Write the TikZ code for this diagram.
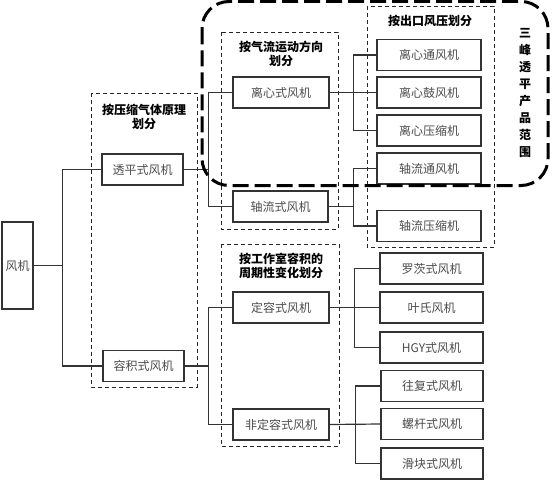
\documentclass[tikz,border=0pt]{standalone}
\usepackage{fontspec}
\newfontfamily\cjk{Noto Sans CJK SC}
\setmainfont{Noto Sans CJK SC}
\begin{document}
\begin{tikzpicture}[x=1pt,y=-1pt,
  box/.style={draw=black!80, line width=1.3pt, fill=white, font=\fontsize{12}{14}\selectfont, text=black!70, inner sep=0pt},
  grp/.style={draw=black!85, line width=0.9pt, dash pattern=on 4pt off 3pt},
  ttl/.style={font=\fontsize{12}{14.5}\selectfont\bfseries, align=center, inner sep=0pt},
  conn/.style={draw=black!80, line width=1.2pt}]
\useasboundingbox (0,0) rectangle (553,481);
% group frames
\draw[grp] (91,93) rectangle (197,387);
\draw[grp] (221,32) rectangle (338,229);
\draw[grp] (367,6) rectangle (494,247);
\draw[grp] (221,244) rectangle (339,446);
% titles
\node[ttl] (t1) at (144,117) {按压缩气体原理\\划分};
\node[ttl] (t2) at (281,54) {按气流运动方向\\划分};
\node[ttl] (t3) at (430,21) {按出口风压划分};
\node[ttl] (t4) at (281,266) {按工作室容积的\\周期性变化划分};
% boxes
\node[box, minimum width=31pt, minimum height=87pt] (fj) at (17.5,265.5) {风机};
\node[box, minimum width=81pt, minimum height=31pt] (tp) at (142.5,169.5) {透平式风机};
\node[box, minimum width=81pt, minimum height=31pt] (rj) at (143.5,366) {容积式风机};
\node[box, minimum width=96pt, minimum height=31pt] (lx) at (281,92.5) {离心式风机};
\node[box, minimum width=95pt, minimum height=31pt] (zl) at (280.5,206.5) {轴流式风机};
\node[box, minimum width=96pt, minimum height=31pt] (dr) at (281,307.5) {定容式风机};
\node[box, minimum width=96pt, minimum height=31pt] (fdr) at (281,424.5) {非定容式风机};
\node[box, minimum width=104pt, minimum height=31pt] (a1) at (429,55) {离心通风机};
\node[box, minimum width=104pt, minimum height=31pt] (a2) at (429,92.5) {离心鼓风机};
\node[box, minimum width=104pt, minimum height=31pt] (a3) at (429,130.5) {离心压缩机};
\node[box, minimum width=104pt, minimum height=31pt] (a4) at (429,168.5) {轴流通风机};
\node[box, minimum width=104pt, minimum height=31pt] (a5) at (429,226) {轴流压缩机};
\node[box, minimum width=103pt, minimum height=31pt] (b1) at (431.5,268.5) {罗茨式风机};
\node[box, minimum width=103pt, minimum height=31pt] (b2) at (431.5,307.5) {叶氏风机};
\node[box, minimum width=103pt, minimum height=31pt] (b3) at (431.5,347.5) {HGY式风机};
\node[box, minimum width=102pt, minimum height=31pt] (c1) at (432,386) {往复式风机};
\node[box, minimum width=102pt, minimum height=31pt] (c2) at (432,424) {螺杆式风机};
\node[box, minimum width=102pt, minimum height=31pt] (c3) at (432,463.5) {滑块式风机};
% connectors
\draw[conn] (fj.east) -- ++(29,0) |- (tp.west);
\draw[conn] (fj.east) -- ++(29,0) |- (rj.west);
\draw[conn] (tp.east) -- ++(25,0) |- (lx.west);
\draw[conn] (tp.east) -- ++(25,0) |- (zl.west);
\draw[conn] (rj.east) -- ++(24,0) |- (dr.west);
\draw[conn] (rj.east) -- ++(24,0) |- (fdr.west);
\draw[conn] (lx.east) -- ++(24,0) |- (a1.west);
\draw[conn] (lx.east) -- (a2.west);
\draw[conn] (lx.east) -- ++(24,0) |- (a3.west);
\draw[conn] (zl.east) -- ++(25,0) |- (a4.west);
\draw[conn] (zl.east) -- ++(25,0) |- (a5.west);
\draw[conn] (dr.east) -- ++(25,0) |- (b1.west);
\draw[conn] (dr.east) -- (b2.west);
\draw[conn] (dr.east) -- ++(25,0) |- (b3.west);
\draw[conn] (fdr.east) -- ++(26,0) |- (c1.west);
\draw[conn] (fdr.east) -- (c2.west);
\draw[conn] (fdr.east) -- ++(26,0) |- (c3.west);
% product range
\draw[line width=3pt, dash pattern=on 16pt off 6pt, rounded corners=27pt] (202,1.5) rectangle (548,185.5);
\node[ttl, font=\fontsize{12}{17}\selectfont\bfseries] (rng) at (525,93) {三\\峰\\透\\平\\产\\品\\范\\围};
\end{tikzpicture}
\end{document}
